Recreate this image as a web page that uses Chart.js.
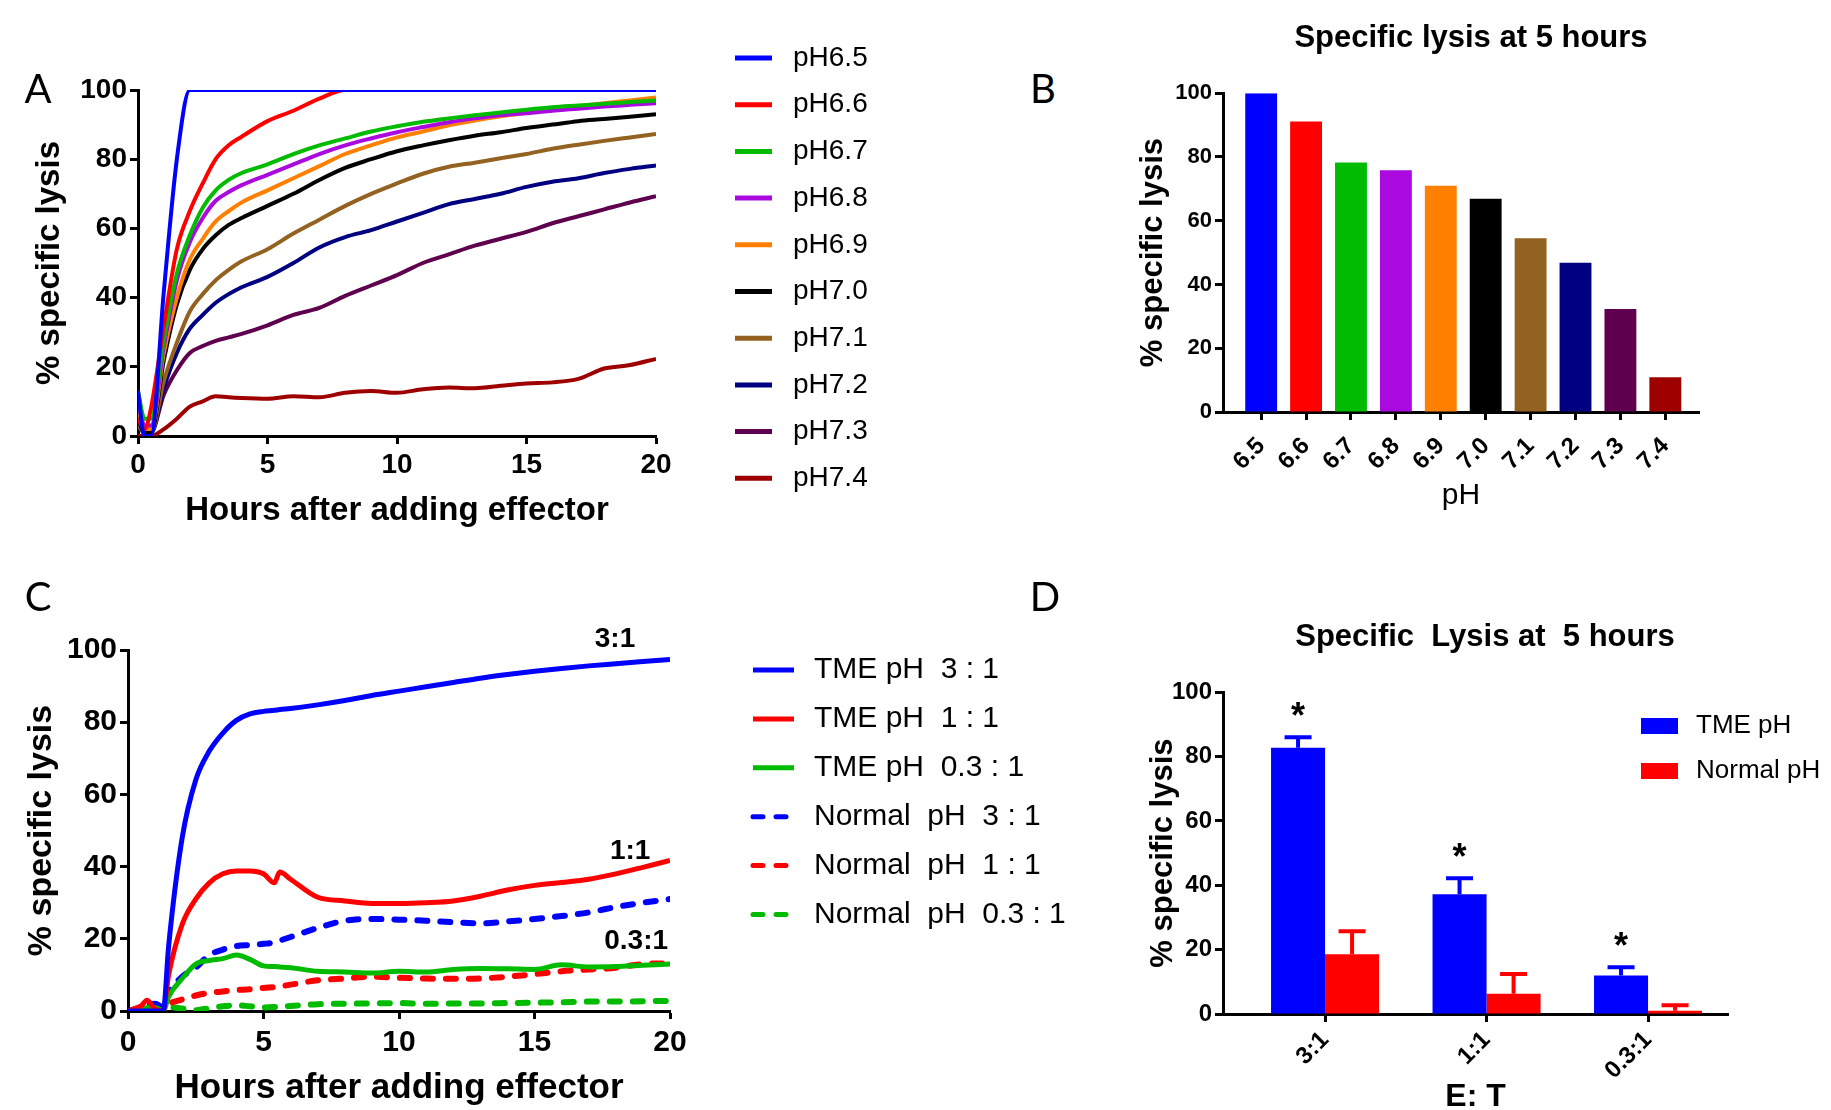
<!DOCTYPE html>
<html>
<head>
<meta charset="utf-8">
<script src="https://cdn.jsdelivr.net/npm/chart.js@4.4.1/dist/chart.umd.min.js"></script>
<style>
  html, body { margin: 0; padding: 0; background: #fff; overflow: hidden; }
  body { width: 1831px; height: 1110px; position: relative; }
  canvas { position: absolute; }
  .tag { position: absolute; font: 40px Lato, sans-serif; color: #000; line-height: 1; transform: translate(-50%, -50%); }
</style>
</head>
<body>
<canvas id="chartA" width="1000" height="560" style="left:0;top:0"></canvas>
<canvas id="chartB" width="720" height="540" style="left:1111px;top:0"></canvas>
<canvas id="chartC" width="1100" height="550" style="left:0;top:560px"></canvas>
<canvas id="chartD" width="720" height="550" style="left:1111px;top:560px"></canvas>
<div class="tag" style="left:38px;top:88px">A</div>
<div class="tag" style="left:1043px;top:88px">B</div>
<div class="tag" style="left:38px;top:596px">C</div>
<div class="tag" style="left:1045px;top:596px">D</div>
<script>
// ---- panel A: lysis curves per pH
const hoursA = [0, 0.25, 0.5, 1, 1.5, 2, 2.5, 3, 3.5, 4, 5, 6, 7, 8, 9, 10, 11, 12, 13, 14, 15, 16, 17, 18, 19, 20];
const ph65 = [13, 0, 0, 42, 80, 100, 100, 100, 100, 100, 100, 100, 100, 100, 100, 100, 100, 100, 100, 100, 100, 100, 100, 100, 100, 100];
const ph66 = [5, 2, 8, 32, 54, 65, 73, 80, 84, 86.5, 91, 94, 97.5, 100, 100, 100, 100, 100, 100, 100, 100, 100, 100, 100, 100, 100];
const ph67 = [13, 5, 5, 28, 47, 58, 66, 71, 74, 76, 78.5, 81.5, 84, 86, 88, 89.5, 90.8, 91.8, 92.7, 93.5, 94.3, 95, 95.5, 96, 96.5, 97];
const ph68 = [10, 3, 3, 26, 45, 56, 63, 68, 70.5, 72.5, 75.5, 78.5, 81.5, 84, 86, 87.8, 89.3, 90.7, 91.8, 92.7, 93.3, 94, 94.6, 95.2, 95.7, 96.2];
const ph69 = [8, 2, 2, 24, 40, 51, 57, 62, 65, 67.5, 71, 74.5, 78, 81.5, 84, 86.3, 88, 89.8, 91.2, 92.4, 93.4, 94.4, 95.3, 96.2, 97, 97.8];
const ph70 = [5, 1, 1, 22, 38, 48, 54, 58, 61, 63, 66.5, 70, 74, 77.5, 80, 82.3, 84, 85.5, 86.8, 87.8, 89, 90, 91, 91.6, 92.3, 93];
const ph71 = [3, 1, 1, 16, 27, 36, 41, 45, 48, 50.5, 54, 58.5, 62.5, 66.5, 70, 73, 75.8, 77.8, 79, 80.3, 81.5, 83, 84.2, 85.3, 86.3, 87.3];
const ph72 = [3, 1, 1, 14, 24, 31, 35, 38.5, 41, 43, 46, 50, 54.5, 57.5, 59.5, 62, 64.5, 67, 68.5, 70, 72, 73.5, 74.5, 76, 77.2, 78.2];
const ph73 = [3, 1, 1, 12, 19, 24, 26, 27.5, 28.5, 29.5, 32, 35, 37, 40.5, 43.5, 46.5, 50, 52.5, 55, 57, 59, 61.5, 63.5, 65.5, 67.5, 69.3];
const ph74 = [0, 0, 0, 2, 5, 8.5, 10, 11.5, 11.2, 11, 10.8, 11.5, 11.2, 12.5, 13, 12.5, 13.5, 14, 13.8, 14.5, 15.2, 15.5, 16.5, 19.5, 20.5, 22.3];
const curvesA = [ph65, ph66, ph67, ph68, ph69, ph70, ph71, ph72, ph73, ph74];

const phLabels = ['6.5', '6.6', '6.7', '6.8', '6.9', '7.0', '7.1', '7.2', '7.3', '7.4'];
const phColors = ['#0000ff', '#ff0000', '#00bb00', '#aa0ae0', '#ff8000', '#000000', '#946220', '#000080', '#5e004e', '#9e0000'];

// ---- panel B: lysis at 5 h
const lysis5h = [100, 91.1, 78.3, 75.8, 71, 66.9, 54.5, 46.8, 32.3, 10.9];

// ---- panel C: E:T ratio curves
const hoursC = [0, 0.5, 0.7, 1, 1.3, 1.5, 2, 2.5, 3, 3.5, 4, 4.5, 5, 5.4, 5.6, 6, 7, 8, 9, 10, 11, 12, 13, 14, 15, 16, 17, 18, 19, 20];
const tme31 = [0, 0, 0, 0, 0, 18, 48, 64, 72, 77, 80.5, 82.3, 83, 83.3, 83.5, 83.8, 84.8, 86, 87.4, 88.6, 89.8, 91, 92.2, 93.2, 94.1, 94.9, 95.6, 96.2, 96.8, 97.4];
const tme11 = [0, 1.5, 3, 0.5, 0, 10, 24, 31, 35.5, 38, 38.8, 38.8, 38, 35.5, 38.5, 36.5, 31.5, 30.5, 29.8, 29.8, 30, 30.5, 31.8, 33.5, 34.8, 35.6, 36.5, 38, 39.8, 41.7];
const tme03 = [0, 0, 1, 1, 0, 4, 9, 13, 14, 14.5, 15.5, 14.3, 12.5, 12.3, 12.2, 12, 11, 10.8, 10.5, 11, 10.8, 11.5, 11.8, 11.7, 11.5, 12.8, 12.2, 12.3, 12.7, 13];
const normal31 = [0, 1, 1.5, 2, 1, 5, 9.5, 12, 15.5, 17, 18, 18.3, 18.6, 19, 19.5, 20.5, 23, 25, 25.5, 25.3, 25, 24.6, 24.3, 24.8, 25.5, 26.3, 27.3, 28.8, 30, 31];
const normal11 = [0, 0, 0.5, 1, 1, 2, 3.2, 4.3, 5, 5.4, 5.8, 6, 6.4, 6.6, 6.8, 7.3, 8.5, 9, 9.5, 9.2, 9, 8.9, 9, 9.5, 10.2, 11, 11.5, 12, 13, 13.2];
const normal03 = [0, 0, 0, 0.5, 0.5, 1, 0.7, 0.2, 0.8, 1.3, 1.6, 1.3, 1, 1.1, 1.2, 1.4, 1.9, 2, 2.1, 2.2, 2, 2.1, 2.1, 2.2, 2.3, 2.4, 2.6, 2.6, 2.7, 2.8];
const seriesC = ['TME pH  3 : 1', 'TME pH  1 : 1', 'TME pH  0.3 : 1', 'Normal  pH  3 : 1', 'Normal  pH  1 : 1', 'Normal  pH  0.3 : 1'];
const ratioTagText = ['3:1', '1:1', '0.3:1'];
const ratioTagX = [17.97, 18.53, 18.75];
const ratioTagY = [102.9, 44.3, 19.4];

// ---- panel D: lysis at 5 h by E:T
const ratios = ['3:1', '1:1', '0.3:1'];
const tmeMean = [82.7, 37.2, 12.0];
const tmeErr = [3.3, 5.0, 2.5];
const normalMean = [18.6, 6.3, 1.0];
const normalErr = [7.1, 6.1, 1.7];
const sigMarks = ['*', '*', '*'];

const FONT = '"Liberation Sans", Arial, Helvetica, sans-serif';
Chart.defaults.font.family = FONT;
Chart.defaults.color = '#000';
Chart.defaults.animation = false;
Chart.defaults.plugins.legend.display = false;
Chart.defaults.plugins.tooltip.enabled = false;

const xy = (xs, ys) => ys.map((y, i) => ({ x: xs[i], y: y }));

function tickGrid() {
  return { drawOnChartArea: false, drawTicks: true, tickLength: 8, tickWidth: 3, tickColor: '#000', offset: false };
}
function axisLine() {
  return { display: true, width: 3, color: '#000' };
}
function spacer(position, size) {
  return {
    type: 'linear', position: position, display: true,
    grid: { display: false }, border: { display: false }, ticks: { display: false },
    afterFit: s => { if (s.isHorizontal()) s.height = size; else s.width = size; }
  };
}
function lysisAxis(o) {
  return {
    type: 'linear', min: 0, max: 100,
    grid: tickGrid(), border: axisLine(),
    ticks: { stepSize: 20, padding: 3, font: { size: o.tick, weight: 'bold' } },
    title: { display: true, text: '% specific lysis', font: { size: o.title, weight: 'bold' }, padding: { top: o.titlePad, bottom: 0 } },
    afterFit: s => { s.width = o.width; }
  };
}
function hoursAxis(o) {
  return {
    type: 'linear', min: 0, max: 20,
    grid: tickGrid(), border: axisLine(),
    ticks: { stepSize: 5, maxRotation: 0, padding: o.tickPad, font: { size: o.tick, weight: 'bold' } },
    title: { display: true, text: 'Hours after adding effector', font: { size: o.title, weight: 'bold' }, padding: { top: 0, bottom: o.titlePad } },
    afterFit: s => { s.height = o.height; }
  };
}
function indexAxis(labels, o) {
  return {
    type: 'linear', min: o.min, max: o.max, bounds: 'data', offset: false,
    grid: tickGrid(), border: axisLine(),
    afterBuildTicks: s => { s.ticks = labels.map((_, i) => ({ value: i })); },
    ticks: { autoSkip: false, minRotation: 45, maxRotation: 45, padding: o.tickPad, font: { size: o.tick, weight: 'bold' },
             callback: (v, i) => labels[i] },
    title: { display: true, text: o.text, font: o.titleFont, padding: { top: 0, bottom: o.titlePad } },
    afterFit: s => { s.height = o.height; }
  };
}

// legend drawn at fixed spots beside the plot
const sideLegend = {
  id: 'sideLegend',
  afterDraw(chart, args, opts) {
    const ctx = chart.ctx;
    ctx.save();
    ctx.font = opts.fontCss;
    ctx.textBaseline = 'middle';
    chart.data.datasets.forEach((ds, i) => {
      const y = opts.top + i * opts.step;
      if (opts.boxes) {
        ctx.fillStyle = ds.backgroundColor;
        ctx.fillRect(opts.left, y - opts.boxHeight / 2, opts.swatch, opts.boxHeight);
      } else {
        ctx.strokeStyle = ds.borderColor;
        ctx.lineWidth = opts.lineWidth;
        ctx.lineCap = ds.borderDash ? 'round' : 'butt';
        ctx.setLineDash(ds.borderDash || []);
        ctx.beginPath();
        ctx.moveTo(opts.left, y);
        ctx.lineTo(opts.left + opts.swatch, y);
        ctx.stroke();
        ctx.setLineDash([]);
      }
      ctx.fillStyle = '#000';
      ctx.fillText(ds.label, opts.left + opts.swatch + opts.gap, y);
    });
    ctx.restore();
  }
};

// ratio labels at the end of the curves in C
const ratioTags = {
  id: 'ratioTags',
  afterDatasetsDraw(chart) {
    const { ctx, scales: { x, y } } = chart;
    ctx.save();
    ctx.font = 'bold 28px ' + FONT;
    ctx.textAlign = 'center';
    ctx.textBaseline = 'middle';
    ctx.fillStyle = '#000';
    ratioTagText.forEach((t, i) => ctx.fillText(t, x.getPixelForValue(ratioTagX[i]), y.getPixelForValue(ratioTagY[i])));
    ctx.restore();
  }
};

// one-sided error bars + significance stars in D
const errorBars = {
  id: 'errorBars',
  afterDatasetsDraw(chart) {
    const { ctx, scales: { y } } = chart;
    chart.data.datasets.forEach((ds, di) => {
      const meta = chart.getDatasetMeta(di);
      ctx.save();
      ctx.strokeStyle = ds.backgroundColor;
      ctx.lineWidth = 4;
      meta.data.forEach((bar, i) => {
        const p = bar.getProps(['x', 'y', 'width'], true);
        const top = y.getPixelForValue(ds.data[i].y + ds.errors[i]);
        ctx.beginPath();
        ctx.moveTo(p.x, p.y);
        ctx.lineTo(p.x, top);
        ctx.moveTo(p.x - p.width / 4, top);
        ctx.lineTo(p.x + p.width / 4, top);
        ctx.stroke();
        if (ds.marks) {
          ctx.fillStyle = '#000';
          ctx.font = 'bold 36px ' + FONT;
          ctx.textAlign = 'center';
          ctx.textBaseline = 'middle';
          ctx.fillText(ds.marks[i], p.x, top - 19);
        }
      });
      ctx.restore();
    });
  }
};

// A
new Chart(document.getElementById('chartA'), {
  type: 'line',
  data: {
    datasets: curvesA.map((vals, i) => ({
      label: 'pH' + phLabels[i], data: xy(hoursA, vals),
      borderColor: phColors[i], borderWidth: 4, pointRadius: 0, cubicInterpolationMode: 'monotone'
    }))
  },
  options: {
    responsive: false,
    layout: { padding: 0 },
    scales: {
      x: hoursAxis({ tick: 28, tickPad: 4, title: 33, titlePad: 29, height: 124 }),
      y: lysisAxis({ tick: 28, title: 33, titlePad: 30, width: 138 }),
      padT: spacer('top', 90),
      padR: spacer('right', 344)
    },
    plugins: {
      sideLegend: { left: 735, top: 58, step: 46.7, swatch: 37, gap: 21, lineWidth: 5, fontCss: '28px ' + FONT }
    }
  },
  plugins: [sideLegend]
});

// B
new Chart(document.getElementById('chartB'), {
  type: 'bar',
  data: {
    datasets: [{
      label: 'Specific lysis at 5 hours', data: xy(phLabels.map((_, i) => i), lysis5h),
      backgroundColor: phColors, categoryPercentage: 0.71, barPercentage: 1
    }]
  },
  options: {
    responsive: false,
    layout: { padding: 0 },
    scales: {
      x: indexAxis(phLabels, { min: -0.85, max: 9.75, tick: 24, tickPad: 12, text: 'pH', titleFont: { size: 30, weight: 'normal' }, titlePad: 26, height: 128 }),
      y: lysisAxis({ tick: 22, title: 31, titlePad: 24, width: 112 }),
      padT: spacer('top', 36),
      padR: spacer('right', 132)
    },
    plugins: {
      title: { display: true, text: 'Specific lysis at 5 hours', color: '#000', font: { size: 31, weight: 'bold' }, padding: { top: 20, bottom: 0 } }
    }
  }
});

// C
const curvesC = [tme31, tme11, tme03, normal31, normal11, normal03];
const colorsC = ['#0000ff', '#ff0000', '#00bb00', '#0000ff', '#ff0000', '#00bb00'];
new Chart(document.getElementById('chartC'), {
  type: 'line',
  data: {
    datasets: curvesC.map((vals, i) => {
      const ds = { label: seriesC[i], data: xy(hoursC, vals), borderColor: colorsC[i], borderWidth: 5,
                   pointRadius: 0, cubicInterpolationMode: 'monotone' };
      if (i >= 3) { ds.borderDash = [10, 13]; ds.borderCapStyle = 'round'; ds.borderWidth = 6; }
      return ds;
    })
  },
  options: {
    responsive: false,
    layout: { padding: 0 },
    scales: {
      x: hoursAxis({ tick: 30, tickPad: 6, title: 35, titlePad: 1, height: 99 }),
      y: lysisAxis({ tick: 30, title: 34, titlePad: 21, width: 128 }),
      padT: spacer('top', 90),
      padR: spacer('right', 430)
    },
    plugins: {
      sideLegend: { left: 753, top: 110, step: 48.9, swatch: 41, gap: 20, lineWidth: 5, fontCss: '30px ' + FONT }
    }
  },
  plugins: [sideLegend, ratioTags]
});

// D
new Chart(document.getElementById('chartD'), {
  type: 'bar',
  data: {
    datasets: [
      { label: 'TME pH', data: xy([0, 1, 2], tmeMean), errors: tmeErr, marks: sigMarks,
        backgroundColor: '#0000ff', categoryPercentage: 0.669, barPercentage: 1 },
      { label: 'Normal pH', data: xy([0, 1, 2], normalMean), errors: normalErr,
        backgroundColor: '#ff0000', categoryPercentage: 0.669, barPercentage: 1 }
    ]
  },
  options: {
    responsive: false,
    layout: { padding: { left: 28, right: 0, top: 0, bottom: 0 } },
    scales: {
      x: indexAxis(ratios, { min: -0.632, max: 2.495, tick: 24, tickPad: 4, text: 'E: T', titleFont: { size: 32, weight: 'bold' }, titlePad: -6, height: 96 }),
      y: lysisAxis({ tick: 24, title: 31, titlePad: 6, width: 84 }),
      padT: spacer('top', 36),
      padR: spacer('right', 103)
    },
    plugins: {
      title: { display: true, text: 'Specific  Lysis at  5 hours', color: '#000', font: { size: 31, weight: 'bold' }, padding: { top: 59, bottom: 0 } },
      sideLegend: { boxes: true, left: 530, top: 166, step: 45, swatch: 37, boxHeight: 16, gap: 18, fontCss: '26px ' + FONT }
    }
  },
  plugins: [errorBars, sideLegend]
});
</script>
</body>
</html>
